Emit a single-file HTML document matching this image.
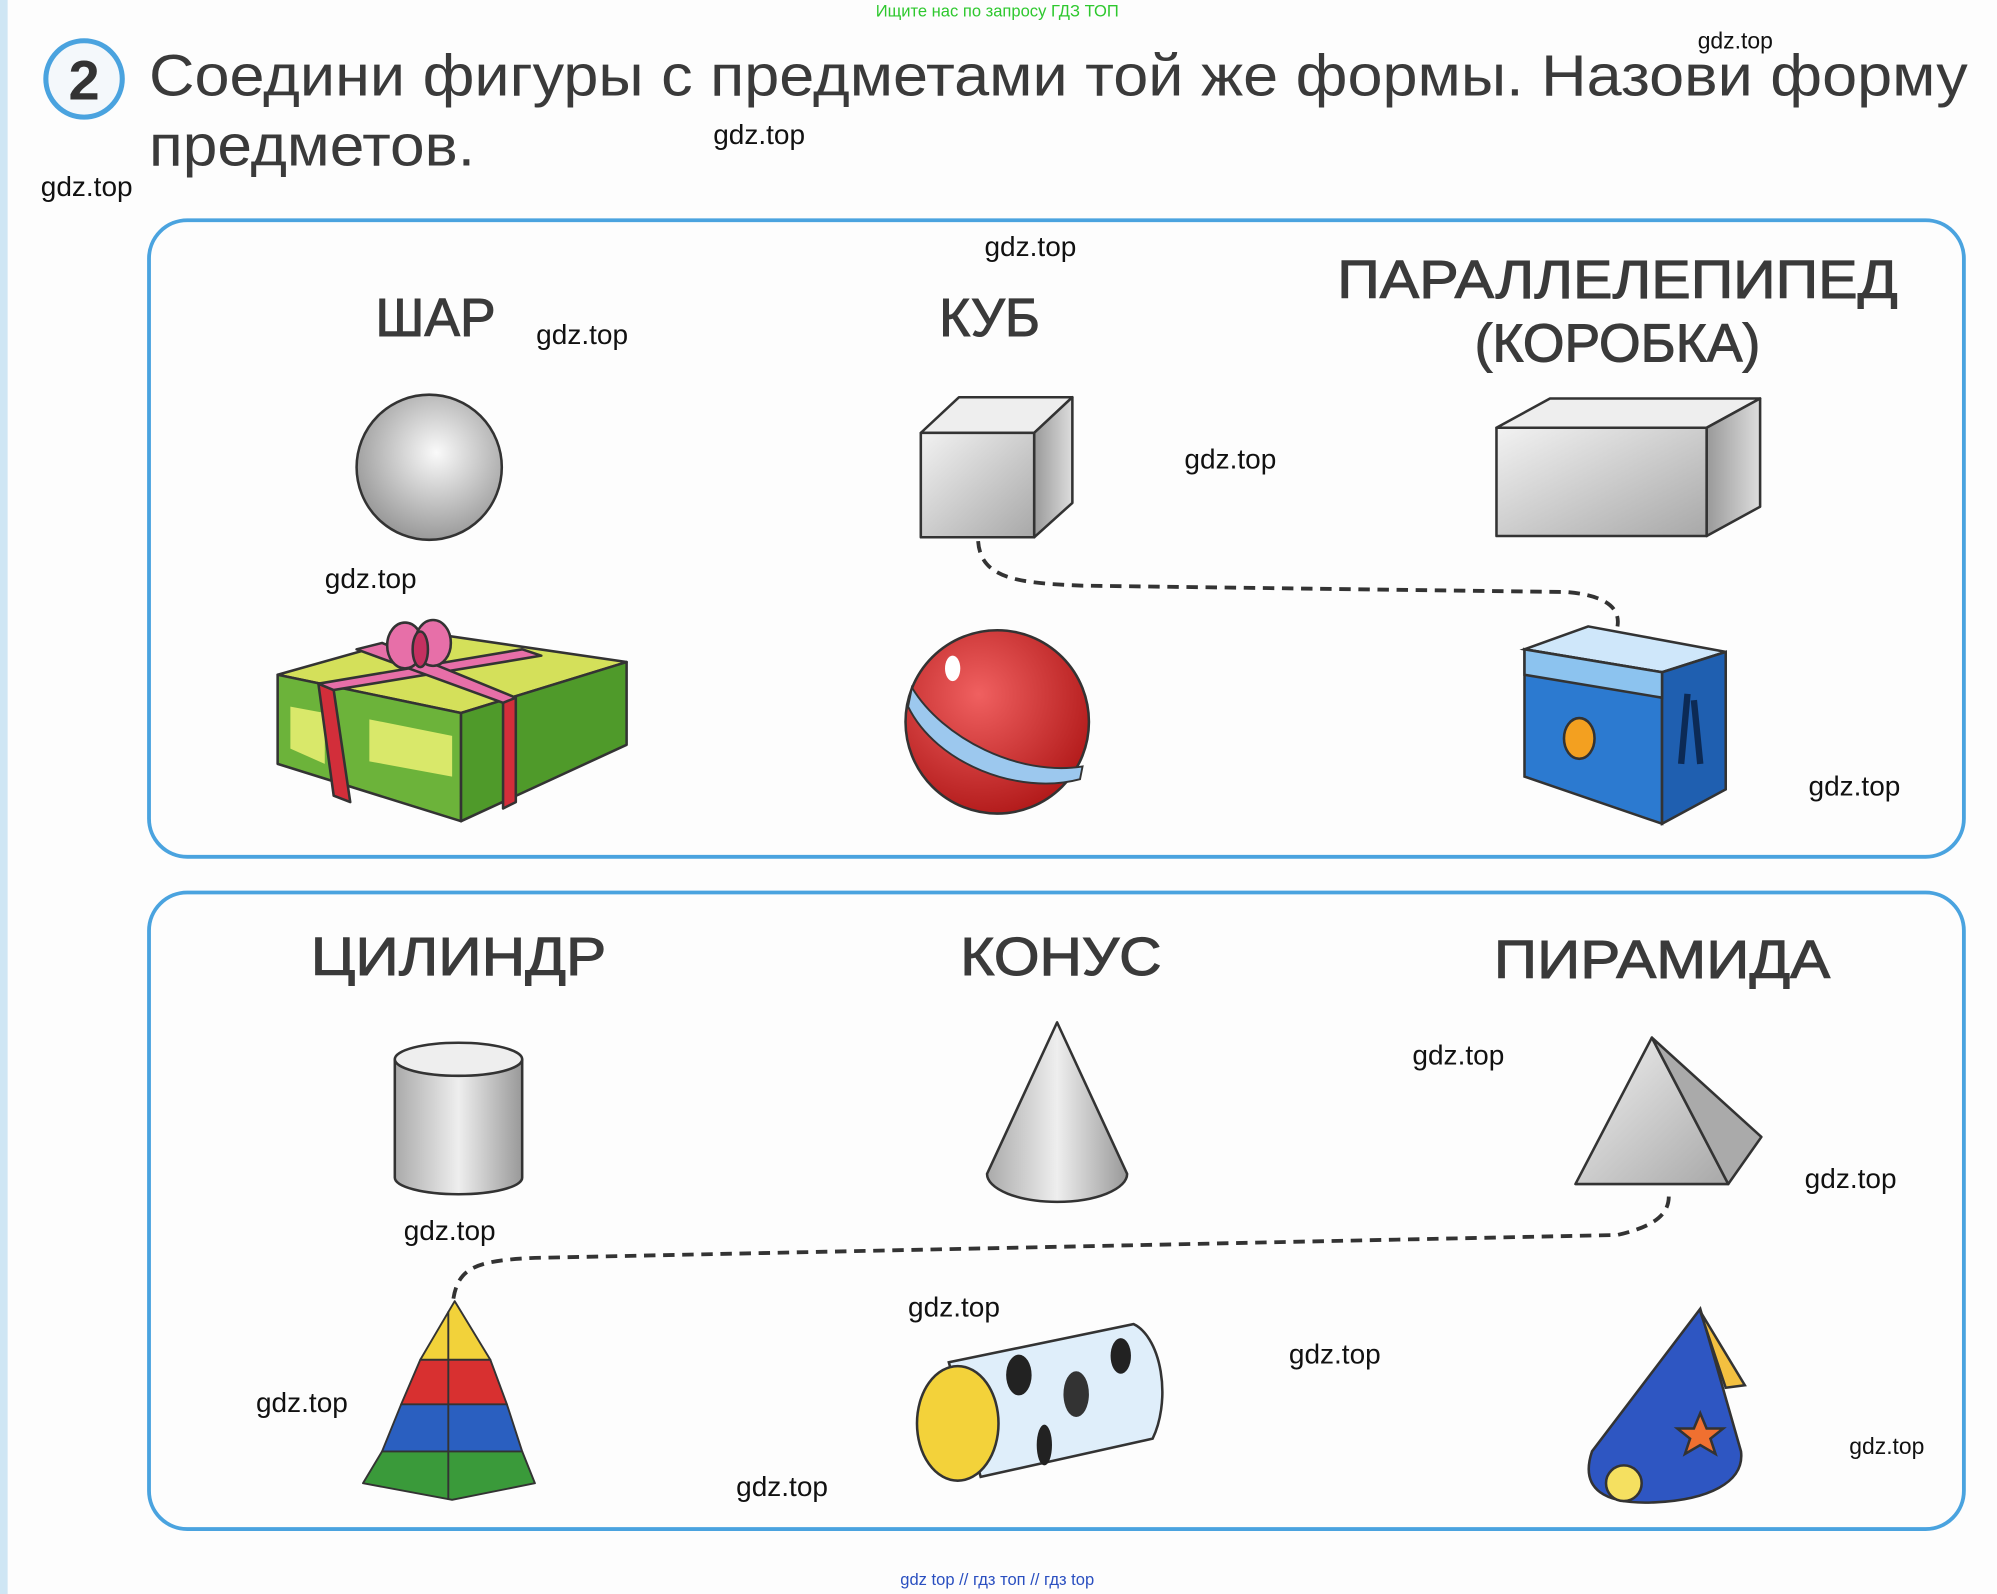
<!DOCTYPE html>
<html><head><meta charset="utf-8">
<style>
html,body{margin:0;padding:0;background:#fdfdfd;}
svg{display:block;}
text{font-family:"Liberation Sans",sans-serif;}
</style></head><body>
<svg width="1997" height="1594" viewBox="0 0 1568 1252" preserveAspectRatio="none" xmlns="http://www.w3.org/2000/svg">
<defs>
<radialGradient id="sg" cx="0.55" cy="0.4" r="0.6"><stop offset="0" stop-color="#fafafa"/><stop offset="1" stop-color="#9a9a9a"/></radialGradient>
<linearGradient id="fg" x1="0" y1="0" x2="1" y2="1"><stop offset="0" stop-color="#f2f2f2"/><stop offset="1" stop-color="#a8a8a8"/></linearGradient>
<linearGradient id="sd" x1="0" y1="0" x2="1" y2="0"><stop offset="0" stop-color="#999"/><stop offset="1" stop-color="#ddd"/></linearGradient>
<linearGradient id="cy" x1="0" y1="0" x2="1" y2="0"><stop offset="0" stop-color="#aaa"/><stop offset="0.5" stop-color="#eee"/><stop offset="1" stop-color="#999"/></linearGradient>
<radialGradient id="rb" cx="0.4" cy="0.35" r="0.7"><stop offset="0" stop-color="#f06060"/><stop offset="1" stop-color="#b01818"/></radialGradient>
</defs>
<rect x="0" y="0" width="6" height="1252" fill="#cfe6f4"/>
<text x="783" y="13" font-size="13" fill="#2ec82e" text-anchor="middle">Ищите нас по запросу ГДЗ ТОП</text>
<circle cx="66" cy="62" r="30" fill="#f4f8fb" stroke="#4aa3df" stroke-width="4"/>
<text x="66" y="78" font-size="44" font-weight="bold" fill="#333" text-anchor="middle">2</text>
<text x="117" y="75" font-size="46" fill="#3a3a3a" textLength="1428" lengthAdjust="spacingAndGlyphs">Соедини фигуры с предметами той же формы. Назови форму</text>
<text x="117" y="130" font-size="46" fill="#3a3a3a" textLength="256" lengthAdjust="spacingAndGlyphs">предметов.</text>

<rect x="117" y="173" width="1425" height="500" rx="30" fill="none" stroke="#4aa3df" stroke-width="3"/>
<rect x="117" y="701" width="1425" height="500" rx="30" fill="none" stroke="#4aa3df" stroke-width="3"/>

<g font-size="42" fill="#3a3a3a" text-anchor="middle" stroke="#3a3a3a" stroke-width="0.8">
<text x="342" y="264">ШАР</text>
<text x="777" y="264">КУБ</text>
<text x="1270" y="234" textLength="440" lengthAdjust="spacingAndGlyphs">ПАРАЛЛЕЛЕПИПЕД</text>
<text x="1270" y="284">(КОРОБКА)</text>
<text x="360" y="766" textLength="232" lengthAdjust="spacingAndGlyphs">ЦИЛИНДР</text>
<text x="833" y="766" textLength="158" lengthAdjust="spacingAndGlyphs">КОНУС</text>
<text x="1305" y="768" textLength="264" lengthAdjust="spacingAndGlyphs">ПИРАМИДА</text>
</g>

<circle cx="337" cy="367" r="57" fill="url(#sg)" stroke="#333" stroke-width="2"/>
<g stroke="#333" stroke-width="2" stroke-linejoin="round">
<polygon points="723,340 753,312 842,312 812,340" fill="#eee"/>
<polygon points="812,340 842,312 842,395 812,422" fill="url(#sd)"/>
<rect x="723" y="340" width="89" height="82" fill="url(#fg)"/>
<polygon points="1175,336 1217,313 1382,313 1340,336" fill="#eee"/>
<polygon points="1340,336 1382,313 1382,398 1340,421" fill="url(#sd)"/>
<rect x="1175" y="336" width="165" height="85" fill="url(#fg)"/>
<path d="M310,832 L310,925 A50,13 0 0 0 410,925 L410,832 Z" fill="url(#cy)"/>
<ellipse cx="360" cy="832" rx="50" ry="13" fill="#eee"/>
<path d="M830,803 L775,922 A55,22 0 0 0 885,922 Z" fill="url(#cy)"/>
<polygon points="1297,815 1237,930 1357,930" fill="url(#fg)"/>
<polygon points="1297,815 1357,930 1383,893" fill="#aaa"/>
</g>

<path d="M768,425 C770,455 800,458 850,460 L1230,465 C1265,468 1272,480 1270,492" fill="none" stroke="#333" stroke-width="3" stroke-dasharray="9,6"/>
<path d="M356,1020 C360,995 375,990 420,988 L1270,970 C1305,962 1312,950 1310,935" fill="none" stroke="#333" stroke-width="3" stroke-dasharray="9,6"/>

<!-- gift -->
<g stroke="#333" stroke-width="2" stroke-linejoin="round">
<polygon points="218,530 335,497 492,520 362,560" fill="#d4e05a"/>
<polygon points="218,530 362,560 362,645 218,600" fill="#6cb33a"/>
<polygon points="362,560 492,520 492,585 362,645" fill="#4f9a2a"/>
<polygon points="228,555 255,560 255,600 228,588" fill="#d9e86a" stroke="none"/>
<polygon points="290,565 355,578 355,610 290,598" fill="#d9e86a" stroke="none"/>
<polygon points="250,537 262,542 275,630 262,625" fill="#d22e3a"/>
<polygon points="395,550 405,547 405,630 395,635" fill="#d22e3a"/>
<polygon points="250,537 410,510 425,515 262,542" fill="#e76fa8"/>
<polygon points="280,510 300,505 405,548 395,552" fill="#e76fa8"/>
<ellipse cx="318" cy="507" rx="14" ry="18" fill="#e76fa8"/>
<ellipse cx="340" cy="505" rx="14" ry="18" fill="#e76fa8"/>
<ellipse cx="330" cy="510" rx="6" ry="14" fill="#c43060"/>
</g>
<circle cx="783" cy="567" r="72" fill="url(#rb)" stroke="#333" stroke-width="2"/>
<path d="M716,540 C740,580 800,610 850,602 L848,612 C800,625 735,600 713,555 Z" fill="#9cc8ee" stroke="#333" stroke-width="1.5"/>
<ellipse cx="748" cy="525" rx="6" ry="10" fill="#fff"/>
<g stroke="#333" stroke-width="2">
<polygon points="1197,510 1247,492 1355,512 1305,528" fill="#cfe7fa"/>
<polygon points="1197,510 1305,528 1305,647 1197,610" fill="#2c7ad0"/>
<polygon points="1305,528 1355,512 1355,620 1305,647" fill="#1f5fb0"/>
<polygon points="1197,510 1305,528 1305,548 1197,530" fill="#8cc3ef"/>
<ellipse cx="1240" cy="580" rx="12" ry="16" fill="#f3a020"/>
<path d="M1325,545 L1320,600 M1330,550 L1335,600" stroke="#0c2a55" stroke-width="5"/>
</g>
<g stroke="#333" stroke-width="1.5" stroke-linejoin="round">
<polygon points="357,1022 330,1068 352,1078 385,1068" fill="#f2d23a"/>
<polygon points="330,1068 385,1068 398,1103 352,1115 315,1103" fill="#d83030"/>
<polygon points="315,1103 398,1103 410,1140 352,1155 300,1140" fill="#2a5fc0"/>
<polygon points="300,1140 410,1140 420,1165 355,1178 285,1165" fill="#3a9a3a"/>
<line x1="352" y1="1030" x2="352" y2="1178"/>
</g>
<g stroke="#333" stroke-width="2">
<path d="M745,1070 L890,1040 A30,55 0 0 1 905,1130 L770,1160 Z" fill="#dfeefa"/>
<ellipse cx="752" cy="1118" rx="32" ry="45" fill="#f3d23a"/>
<ellipse cx="800" cy="1080" rx="10" ry="16" fill="#222" stroke="none"/>
<ellipse cx="845" cy="1095" rx="10" ry="18" fill="#333" stroke="none"/>
<ellipse cx="880" cy="1065" rx="8" ry="14" fill="#222" stroke="none"/>
<ellipse cx="820" cy="1135" rx="6" ry="16" fill="#222" stroke="none"/>
</g>
<g stroke="#333" stroke-width="2">
<path d="M1335,1028 L1250,1140 C1240,1170 1260,1182 1300,1180 C1340,1178 1370,1165 1367,1140 Z" fill="#2e56c2"/>
<path d="M1335,1030 L1355,1090 L1370,1088 Z" fill="#f3c040"/>
<circle cx="1275" cy="1165" r="14" fill="#f5e060"/>
<polygon points="1335,1110 1340,1122 1353,1122 1343,1130 1347,1142 1335,1135 1323,1142 1327,1130 1317,1122 1330,1122" fill="#f07030"/>
</g>

<g font-size="22" fill="#111">
<text x="1333" y="38" font-size="18">gdz.top</text>
<text x="560" y="113">gdz.top</text>
<text x="32" y="154">gdz.top</text>
<text x="773" y="201">gdz.top</text>
<text x="421" y="270">gdz.top</text>
<text x="930" y="368">gdz.top</text>
<text x="255" y="462">gdz.top</text>
<text x="1420" y="625">gdz.top</text>
<text x="1109" y="836">gdz.top</text>
<text x="1417" y="933">gdz.top</text>
<text x="317" y="974">gdz.top</text>
<text x="713" y="1034">gdz.top</text>
<text x="1012" y="1071">gdz.top</text>
<text x="201" y="1109">gdz.top</text>
<text x="1452" y="1142" font-size="18">gdz.top</text>
<text x="578" y="1175">gdz.top</text>
</g>
<text x="783" y="1245" font-size="13" fill="#2a4fc0" text-anchor="middle">gdz top  //  гдз топ  //  гдз top</text>
</svg>
</body></html>
